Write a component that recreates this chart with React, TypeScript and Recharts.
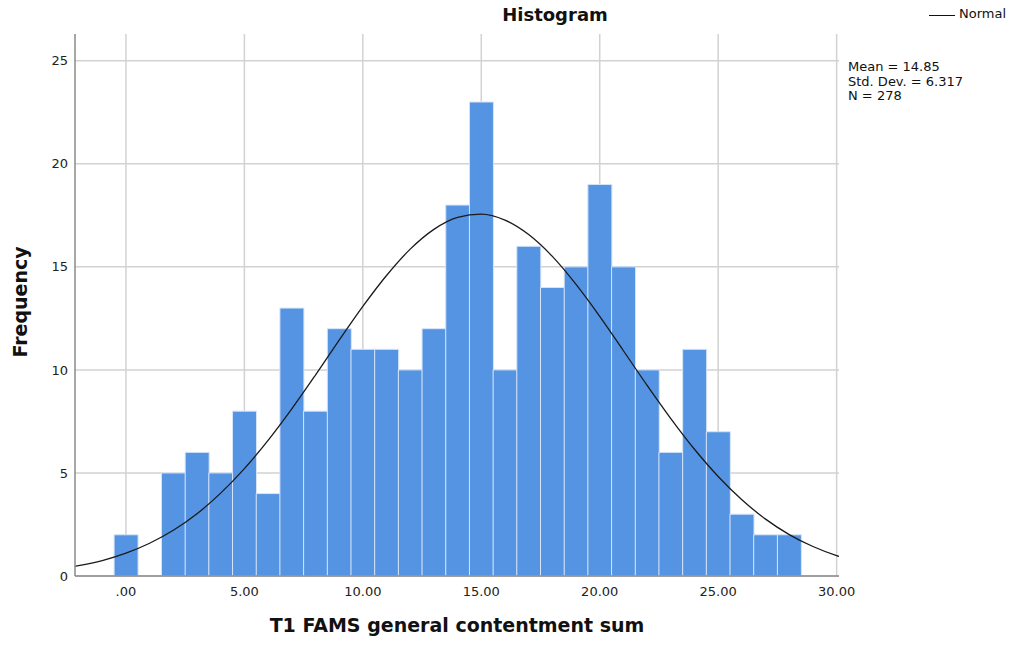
import React from "react";
import {
  ComposedChart,
  Bar,
  Line,
  XAxis,
  YAxis,
  CartesianGrid,
} from "recharts";

// bin centres (score values) and how many cases fell in each bin
const bins = [-3, -2, -1, 0, 1, 2, 3, 4, 5, 6, 7, 8, 9, 10, 11, 12, 13, 14, 15, 16, 17, 18, 19, 20, 21, 22, 23, 24, 25, 26, 27, 28, 29, 30, 31];
const counts = [null, null, null, 2, 0, 5, 6, 5, 8, 4, 13, 8, 12, 11, 11, 10, 12, 18, 23, 10, 16, 14, 15, 19, 15, 10, 6, 11, 7, 3, 2, 2, null, null, null];
// height of the fitted normal curve at each bin centre
const normal = [0.32, 0.5, 0.75, 1.11, 1.59, 2.22, 3.02, 4.02, 5.21, 6.58, 8.11, 9.75, 11.44, 13.08, 14.58, 15.86, 16.82, 17.4, 17.56, 17.27, 16.57, 15.51, 14.15, 12.6, 10.93, 9.25, 7.64, 6.15, 4.83, 3.7, 2.76, 2.01, 1.43, 0.99, 0.67];

const xTicks = [0, 5, 10, 15, 20, 25, 30];
const yTicks = [0, 5, 10, 15, 20, 25];
const stats = ["Mean = 14.85", "Std. Dev. = 6.317", "N = 278"];

const data = bins.map((b, i) => ({ bin: b, count: counts[i], normal: normal[i] }));

const FONT = "'DejaVu Sans', sans-serif";

const fmtX = (v: number) => (v === 0 ? ".00" : v.toFixed(2));

export default function App() {
  return (
    <div style={{ position: "absolute", left: 0, top: 0, width: 1014, height: 648, background: "#fff", fontFamily: FONT }}>
      <ComposedChart
        width={1014}
        height={648}
        data={data}
        margin={{ top: 34, right: 175, bottom: 40, left: 35 }}
        barCategoryGap={0}
        barGap={0}
      >
        <CartesianGrid stroke="#d2d2d2" strokeWidth={1.5} syncWithTicks />
        <XAxis
          dataKey="bin"
          type="number"
          domain={[-2.15, 30.1]}
          allowDataOverflow
          ticks={xTicks}
          tickFormatter={fmtX}
          axisLine={{ stroke: "#8a8a8a", strokeWidth: 1.5 }}
          tickLine={false}
          tick={{ fill: "#222", fontSize: 13, fontFamily: FONT }}
          tickMargin={5}
          height={32}
        />
        <YAxis
          type="number"
          domain={[0, 26.3]}
          allowDataOverflow
          ticks={yTicks}
          axisLine={{ stroke: "#8a8a8a", strokeWidth: 1.5 }}
          tickLine={false}
          tick={{ fill: "#222", fontSize: 13, fontFamily: FONT }}
          tickMargin={1}
          width={40}
        />
        <Bar dataKey="count" fill="#5494e3" stroke="#d6e5f8" strokeWidth={1} isAnimationActive={false} />
        <Line
          dataKey="normal"
          type="monotone"
          stroke="#1a1a1a"
          strokeWidth={1.3}
          dot={false}
          activeDot={false}
          isAnimationActive={false}
        />
      </ComposedChart>

      <div style={{ position: "absolute", left: 455, width: 200, top: 4, textAlign: "center", fontWeight: "bold", fontSize: 18, color: "#111" }}>
        Histogram
      </div>

      <div style={{ position: "absolute", left: 929, top: 15, width: 26, height: 0, borderTop: "1.3px solid #111" }} />
      <div style={{ position: "absolute", left: 959, top: 6, fontSize: 13, color: "#111" }}>Normal</div>

      <div style={{ position: "absolute", left: 848, top: 60, fontSize: 13, lineHeight: "14.5px", color: "#111" }}>
        {stats.map((s) => (
          <div key={s}>{s}</div>
        ))}
      </div>

      <div
        style={{
          position: "absolute",
          left: 20,
          top: 302,
          transform: "translate(-50%, -50%) rotate(-90deg)",
          fontWeight: "bold",
          fontSize: 19,
          color: "#111",
          whiteSpace: "nowrap",
        }}
      >
        Frequency
      </div>

      <div style={{ position: "absolute", left: 157, width: 600, top: 614, textAlign: "center", fontWeight: "bold", fontSize: 19, color: "#111" }}>
        T1 FAMS general contentment sum
      </div>
    </div>
  );
}
